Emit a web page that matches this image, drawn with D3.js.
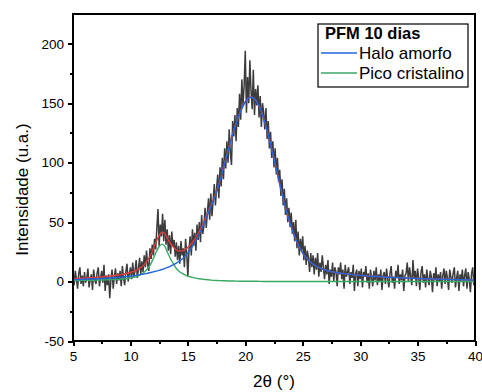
<!DOCTYPE html>
<html lang="pt-BR">
<head>
<meta charset="UTF-8">
<title>PFM 10 dias</title>
<style>
  body { margin: 0; padding: 0; background: #fff; }
  svg text { font-family: "Liberation Sans", Arial, sans-serif; fill: #000; }
</style>
</head>
<body>
<div id="chart"></div>
<script src="https://d3js.org/d3.v7.min.js"></script>
<script>
// medida (passo 0.1 de 5 a 40)
const xStart = 5, xStep = 0.1;
const intensidade = [
  4, -3, 9, 2, -6, 7, 12, -2, 5, -4,
  8, -1, 3, 11, -5, 2, 6, -7, 10, 1,
  -2, 7, 12, -4, 3, 9, -1, 14, -8, 5,
  -3, 6, -14, 2, 10, -6, 4, 11, -2, 7,
  1, 9, -4, 13, 3, -3, 8, 15, 0, 6,
  12, 2, 16, 4, 9, 18, 3, 11, 20, 6,
  17, 8, 22, 12, 26, 14, 9, 28, 19, 31,
  22, 36, 27, 45, 61, 30, 48, 38, 57, 34,
  52, 31, 44, 26, 39, 23, 42, 29, 35, 21,
  33, 18, 30, 15, 34, 22, 28, 12, 36, 24,
  4, 27, 38, 22, 44, 30, 41, 26, 48, 35,
  50, 33, 56, 40, 47, 62, 45, 58, 70, 52,
  74, 55, 68, 82, 64, 78, 90, 70, 96, 80,
  104, 86, 112, 95, 118, 100, 128, 108, 98, 135,
  122, 140, 118, 146, 130, 158, 136, 170, 148, 165,
  194, 142, 172, 150, 186, 160, 145, 178, 140, 162,
  148, 165, 138, 156, 130, 150, 142, 128, 146, 120,
  135, 112, 126, 104, 118, 96, 112, 90, 104, 84,
  94, 72, 86, 64, 78, 56, 70, 50, 62, 46,
  58, 40, 50, 34, 52, 28, 42, 22, 36, 26,
  38, 18, 30, 14, 26, 20, 8, 24, 12, 22,
  6, 20, 10, 24, 4, 16, 8, 22, 12, 2,
  14, 6, 18, -2, 10, 4, 16, 0, 12, 8,
  -4, 12, 6, 16, 2, 10, -6, 14, 4, 8,
  12, -2, 8, 3, 14, -8, 6, 10, -4, 9,
  2, 11, -5, 8, 4, 13, -1, 7, -6, 10,
  3, -4, 9, 1, 12, -3, 6, 0, 10, -7,
  5, 8, -2, 11, 2, -5, 7, 13, -1, 4,
  -6, 9, 3, 14, -2, 6, 1, 10, -8, 5,
  7, 16, 0, 12, 4, -3, 18, 2, 9, -4,
  11, 3, -7, 8, 13, -1, 6, -5, 10, 2,
  -3, 9, 4, -9, 7, 1, 12, -4, 6, 0,
  8, -6, 5, 11, -2, 9, 3, -7, 10, 4,
  -1, 7, 12, -5, 3, 9, -8, 6, 1, 10,
  -4, 5, 11, -6, 8, 2, -9, 7, 12, -3,
  4
];

// curvas ajustadas
const ajusteX = [5, 5.5, 6, 6.5, 7, 7.5, 8, 8.5, 9, 9.5, 10, 10.5, 11,
  11.25, 11.5, 11.75, 12, 12.25, 12.5, 12.75, 13, 13.25, 13.5, 13.75, 14, 14.25, 14.5, 14.75, 15,
  15.5, 16, 16.5, 17, 17.5, 18, 18.5, 19, 19.5, 20, 20.5, 21, 21.5, 22, 22.5, 23, 23.5, 24, 24.5,
  25, 25.5, 26, 26.5, 27, 27.5, 28, 28.5, 29, 29.5, 30, 30.5, 31, 31.5, 32, 32.5, 33, 33.5, 34,
  34.5, 35, 35.5, 36, 36.5, 37, 37.5, 38, 38.5, 39, 39.5, 40];
const haloAmorfo = [1.5, 1.7, 1.9, 2.1, 2.3, 2.6, 2.9, 3.2, 3.6, 4, 4.6, 5.2, 6,
  6.5, 7, 7.6, 8.2, 8.8, 9.4, 10.1, 11, 11.9, 13, 14.2, 15.5, 17.2, 19, 21.3, 24,
  31, 40, 51, 63, 75, 92, 110, 127, 141, 151, 155, 151, 140, 123, 103, 82, 62, 46, 33,
  24, 18, 14, 11.5, 9.5, 8.3, 7.4, 6.7, 6.1, 5.6, 5.2, 4.8, 4.5, 4.2, 3.9, 3.6, 3.4, 3.2, 3,
  2.8, 2.6, 2.4, 2.2, 2.1, 1.9, 1.8, 1.7, 1.6, 1.5, 1.4, 1.3];
const picoCristalino = [0.8, 0.9, 1, 1.1, 1.2, 1.3, 1.5, 1.7, 1.9, 2.3, 3, 4.2, 6.5,
  8.3, 11, 14.5, 19.5, 25, 29.5, 31.5, 29.5, 24, 19, 14.8, 11, 8.5, 6.8, 5.6, 4.6,
  3.3, 2.3, 1.7, 1.2, 0.9, 0.7, 0.5, 0.4, 0.3, 0.2, 0.2, 0.2, 0.1, 0.1, 0.1, 0.1, 0.1, 0.1, 0.1,
  0, 0, 0, 0, 0, 0, 0, 0, 0, 0, 0, 0, 0, 0, 0, 0, 0, 0, 0,
  0, 0, 0, 0, 0, 0, 0, 0, 0, 0, 0, 0];
const ajusteTotal = [2.3, 2.6, 2.9, 3.2, 3.5, 3.9, 4.4, 4.9, 5.5, 6.3, 7.6, 9.4, 12.5,
  14.8, 18, 22.1, 27.7, 33.8, 38.9, 41.6, 40.5, 35.9, 32, 29, 26.5, 25.7, 25.8, 26.9, 28.6,
  34.3, 42.3, 52.7, 64.2, 75.9, 92.7, 110.5, 127.4, 141.3, 151.2, 155.2, 151.2, 140.1, 123.1, 103.1, 82.1, 62.1, 46.1, 33.1,
  24, 18, 14, 11.5, 9.5, 8.3, 7.4, 6.7, 6.1, 5.6, 5.2, 4.8, 4.5, 4.2, 3.9, 3.6, 3.4, 3.2, 3,
  2.8, 2.6, 2.4, 2.2, 2.1, 1.9, 1.8, 1.7, 1.6, 1.5, 1.4, 1.3];

const xTicks = [5, 10, 15, 20, 25, 30, 35, 40];
const yTicks = [-50, 0, 50, 100, 150, 200];
const xMinor = [7.5, 12.5, 17.5, 22.5, 27.5, 32.5, 37.5];
const yMinor = [-25, 25, 75, 125, 175];

const legendTitle = "PFM 10 dias";
const legendItems = [
  { label: "Halo amorfo", color: "#2266dd" },
  { label: "Pico cristalino", color: "#3aa864" }
];

const W = 482, H = 392;
const mLeft = 73, mRight = 475, mTop = 14, mBottom = 341;

const svg = d3.select("#chart").append("svg")
  .attr("width", W).attr("height", H);

const x = d3.scaleLinear().domain([5, 40]).range([mLeft, mRight]);
const y = d3.scaleLinear().domain([-50, 225]).range([mBottom, mTop]);

svg.append("clipPath").attr("id", "clip")
  .append("rect").attr("x", mLeft).attr("y", mTop)
  .attr("width", mRight - mLeft).attr("height", mBottom - mTop);

const plot = svg.append("g").attr("clip-path", "url(#clip)");

const medida = intensidade.map((v, i) => [xStart + i * xStep, v]);
plot.append("path")
  .datum(medida)
  .attr("fill", "none")
  .attr("stroke", "#3c3c3c")
  .attr("stroke-width", 1.5)
  .attr("d", d3.line().x(d => x(d[0])).y(d => y(d[1])));

const curva = d3.line()
  .x((d, i) => x(ajusteX[i]))
  .y(d => y(d))
  .curve(d3.curveMonotoneX);

plot.append("path").datum(ajusteTotal)
  .attr("fill", "none").attr("stroke", "#e23a3a").attr("stroke-width", 1.4)
  .attr("d", curva);
plot.append("path").datum(picoCristalino)
  .attr("fill", "none").attr("stroke", legendItems[1].color).attr("stroke-width", 1.4)
  .attr("d", curva);
plot.append("path").datum(haloAmorfo)
  .attr("fill", "none").attr("stroke", legendItems[0].color).attr("stroke-width", 1.4)
  .attr("d", curva);

// eixos
const fmt = d => String(d);
const xAxis = svg.append("g").attr("transform", `translate(0,${mBottom})`)
  .call(d3.axisBottom(x).tickValues(xTicks).tickSize(5).tickPadding(5).tickFormat(fmt));
const xAxisMinor = svg.append("g").attr("transform", `translate(0,${mBottom})`)
  .call(d3.axisBottom(x).tickValues(xMinor).tickSize(3).tickFormat(""));
const yAxis = svg.append("g").attr("transform", `translate(${mLeft},0)`)
  .call(d3.axisLeft(y).tickValues(yTicks).tickSize(5).tickPadding(4).tickFormat(fmt));
const yAxisMinor = svg.append("g").attr("transform", `translate(${mLeft},0)`)
  .call(d3.axisLeft(y).tickValues(yMinor).tickSize(3).tickFormat(""));

[xAxis, xAxisMinor, yAxis, yAxisMinor].forEach(g => {
  g.attr("font-family", "Liberation Sans, Arial, sans-serif").attr("font-size", 13.5);
  g.select(".domain").remove();
  g.selectAll(".tick line").attr("stroke", "#000").attr("stroke-width", 2)
    .attr("shape-rendering", "crispEdges");
  g.selectAll(".tick text").attr("fill", "#000");
});

svg.append("rect")
  .attr("x", mLeft).attr("y", mTop)
  .attr("width", mRight - mLeft).attr("height", mBottom - mTop)
  .attr("fill", "none").attr("stroke", "#000").attr("stroke-width", 2.5)
  .attr("shape-rendering", "crispEdges");

svg.append("text")
  .attr("x", (mLeft + mRight) / 2).attr("y", 387)
  .attr("text-anchor", "middle").attr("font-size", 17)
  .text("2θ (°)");

svg.append("text")
  .attr("transform", `translate(28,${(mTop + mBottom) / 2 + 12}) rotate(-90)`)
  .attr("text-anchor", "middle").attr("font-size", 17)
  .text("Intensidade (u.a.)");

// legenda
const lg = svg.append("g").attr("transform", "translate(318,24)");
lg.append("rect").attr("width", 150).attr("height", 63)
  .attr("fill", "#fff").attr("stroke", "#000").attr("stroke-width", 1.2);
lg.append("text").attr("x", 7).attr("y", 15)
  .attr("font-size", 16.5).attr("font-weight", "bold").text(legendTitle);
legendItems.forEach((it, i) => {
  const yy = 29 + i * 20;
  lg.append("line").attr("x1", 3).attr("x2", 39).attr("y1", yy).attr("y2", yy)
    .attr("stroke", it.color).attr("stroke-width", 1.3);
  lg.append("text").attr("x", 41).attr("y", yy + 6)
    .attr("font-size", 17).text(it.label);
});
</script>
</body>
</html>
